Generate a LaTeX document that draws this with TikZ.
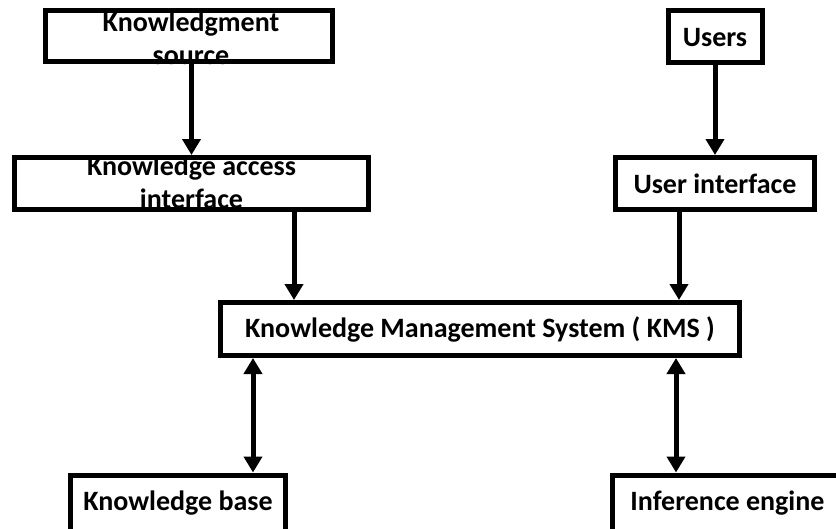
\documentclass[tikz,border=0pt]{standalone}
\usepackage{fontspec}
\setmainfont{Carlito}
\usetikzlibrary{arrows.meta}
\begin{document}
\begin{tikzpicture}[x=1pt,y=-1pt,
  box/.style={draw=black,line width=5pt,inner sep=0pt,fill=white},
  lbl/.style={font=\fontsize{28}{33}\selectfont\bfseries,align=center,inner sep=0pt,anchor=base},
  arr/.style={line width=5pt,-{Triangle[width=18pt,length=16pt]}},
  darr/.style={line width=5pt,{Triangle[width=18pt,length=16pt]}-{Triangle[width=18pt,length=16pt]}}]
\useasboundingbox (0,0) rectangle (836,528);
% boxes (outer edges minus half line width)
\node[box,minimum width=287pt,minimum height=51pt] (ks) at (189,36) {};
\node[box,minimum width=94pt,minimum height=52pt] (users) at (715.5,36.5) {};
\node[box,minimum width=354pt,minimum height=52pt] (kai) at (191.5,183.5) {};
\node[box,minimum width=199pt,minimum height=52pt] (ui) at (715,183.5) {};
\node[box,minimum width=519pt,minimum height=53pt] (kms) at (480,329) {};
\node[box,minimum width=215pt,minimum height=70pt] (kb) at (178,510) {};
\node[box,minimum width=230pt,minimum height=70pt] (ie) at (727.5,510) {};
% labels (base = baseline of last line)
\node[lbl] (ks-t) at (191,64) {Knowledgment\\source};
\node[lbl] (users-t) at (715,46) {Users};
\node[lbl] (kai-t) at (191.5,208) {Knowledge access\\interface};
\node[lbl] (ui-t) at (715,193) {User interface};
\node[lbl] (kms-t) at (480,337.5) {Knowledge Management System ( KMS )};
\node[lbl] (kb-t) at (178,510) {Knowledge base};
\node[lbl] (ie-t) at (727.5,510) {Inference engine};
% connector x positions
\coordinate (xa) at (294,0);
\coordinate (xb) at (679,0);
\coordinate (xc) at (253,0);
\coordinate (xd) at (676,0);
% connectors
\draw[arr] (ks.south -| kai.north) -- (kai.north);
\draw[arr] (users.south -| ui.north) -- (ui.north);
\draw[arr] (kai.south -| xa) -- (kms.north -| xa);
\draw[arr] (ui.south -| xb) -- (kms.north -| xb);
\draw[darr] (kms.south -| xc) -- (kb.north -| xc);
\draw[darr] (kms.south -| xd) -- (ie.north -| xd);
\end{tikzpicture}
\end{document}
